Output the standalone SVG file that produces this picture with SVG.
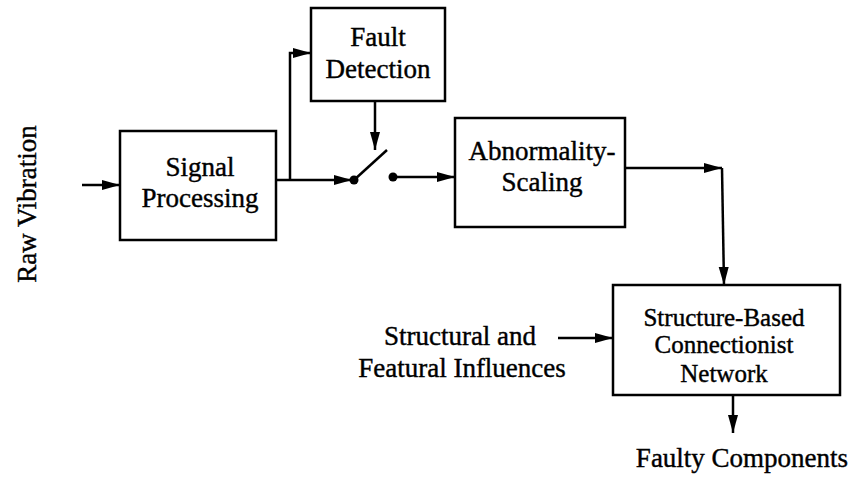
<svg xmlns="http://www.w3.org/2000/svg" width="852" height="477" viewBox="0 0 852 477">
<defs>
<style>
.box{fill:#fff;stroke:#000;stroke-width:2.5}
.t{font-family:'Liberation Serif','Times New Roman','DejaVu Serif',serif;font-size:27px;fill:#000;stroke:#000;stroke-width:0.4;text-anchor:middle}
.s{font-size:25px}
.c{fill:none;stroke:#000;stroke-width:2.5}
</style>
<marker id="ah" viewBox="0 0 18 12" refX="18" refY="6" markerWidth="18" markerHeight="12" markerUnits="userSpaceOnUse" orient="auto">
<path d="M0,1 L18,6 L0,11 z" fill="#000"/>
</marker>
</defs>
<rect width="852" height="477" fill="#fff"/>
<text class="t" transform="translate(36,204) rotate(-90)">Raw Vibration</text>
<g id="signal">
<rect class="box" x="120" y="131" width="156" height="109"/>
<text class="t" x="200" y="176">Signal</text>
<text class="t" x="200" y="207">Processing</text>
</g>
<g id="fault">
<rect class="box" x="311" y="8" width="134" height="93"/>
<text class="t" x="378" y="46">Fault</text>
<text class="t" x="378" y="78">Detection</text>
</g>
<g id="abnormality">
<rect class="box" x="455" y="118" width="170" height="109"/>
<text class="t" x="542" y="160">Abnormality-</text>
<text class="t" x="542" y="191">Scaling</text>
</g>
<g id="network">
<rect class="box" x="613" y="285" width="227" height="110"/>
<text class="t s" x="724" y="326">Structure-Based</text>
<text class="t s" x="724" y="353">Connectionist</text>
<text class="t s" x="724" y="382">Network</text>
</g>
<g id="labels">
<text class="t" x="460" y="345">Structural and</text>
<text class="t" x="462" y="377">Featural Influences</text>
<text class="t" x="742" y="467">Faulty Components</text>
</g>
<g id="connectors">
<line class="c" x1="82" y1="185" x2="120" y2="185" marker-end="url(#ah)"/>
<line class="c" x1="276" y1="180" x2="352" y2="180" marker-end="url(#ah)"/>
<polyline class="c" points="290,180 290,53 311,53" marker-end="url(#ah)"/>
<line class="c" x1="375" y1="101" x2="375" y2="150" marker-end="url(#ah)"/>
<circle cx="354" cy="180" r="4.5" fill="#000"/>
<line class="c" x1="354" y1="180" x2="387" y2="150"/>
<circle cx="393" cy="177" r="4.5" fill="#000"/>
<line class="c" x1="393" y1="177" x2="455" y2="177" marker-end="url(#ah)"/>
<line class="c" x1="625" y1="168" x2="722" y2="168" marker-end="url(#ah)"/>
<line class="c" x1="722" y1="168" x2="724" y2="285" marker-end="url(#ah)"/>
<line class="c" x1="558" y1="338" x2="613" y2="338" marker-end="url(#ah)"/>
<line class="c" x1="733" y1="395" x2="733" y2="433" marker-end="url(#ah)"/>
</g>
</svg>
